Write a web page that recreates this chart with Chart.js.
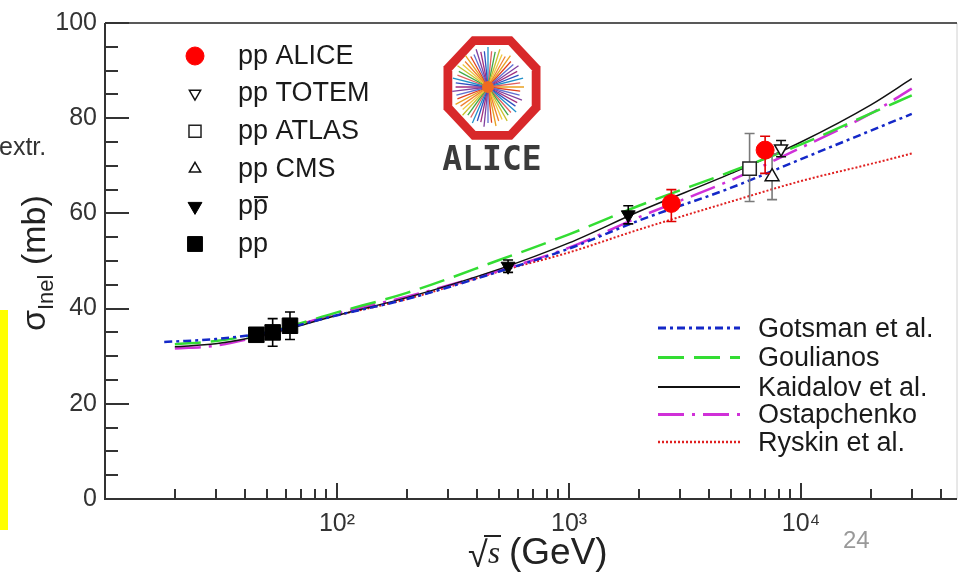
<!DOCTYPE html>
<html lang="en">
<head>
<meta charset="UTF-8">
<title>Inelastic pp cross section vs sqrt(s)</title>
<script src="https://cdn.jsdelivr.net/npm/chart.js@4.4.0/dist/chart.umd.min.js"></script>
<style>
  html, body { margin: 0; padding: 0; background: #fff; }
  #wrap { position: relative; width: 959px; height: 572px; }
</style>
</head>
<body>
<div id="wrap"><canvas id="xsChart" width="959" height="572"></canvas></div>
<script>
// sqrt(s) in GeV, sigma_inel in mb

// model curves
const gotsmanE = [18, 20, 30, 50, 100, 200, 500, 1000, 2000, 5000, 10000, 20000, 30000];
const gotsmanXs = [33.0, 33.1, 33.6, 35.0, 38.6, 42.0, 47.8, 52.6, 58.5, 65.4, 71.4, 77.4, 80.9];
const goulianosE = [20, 30, 50, 100, 200, 500, 1000, 2000, 5000, 10000, 20000, 30000];
const goulianosXs = [32.5, 33.2, 35.0, 39.2, 43.3, 50.2, 55.6, 61.6, 68.8, 74.5, 81.0, 84.8];
const kaidalovE = [20, 30, 50, 100, 200, 500, 1000, 2000, 5000, 10000, 20000, 30000];
const kaidalovXs = [32.0, 32.6, 34.6, 38.6, 42.3, 48.3, 53.8, 60.4, 68.4, 75.0, 82.8, 88.3];
const ostapchenkoE = [20, 30, 50, 100, 200, 500, 1000, 2000, 5000, 10000, 20000, 30000];
const ostapchenkoXs = [31.6, 32.2, 34.6, 39.0, 42.5, 48.0, 52.8, 59.2, 67.0, 73.8, 81.0, 86.2];
const ryskinE = [60, 100, 200, 500, 1000, 2000, 5000, 10000, 20000, 30000];
const ryskinXs = [36.2, 38.6, 42.0, 47.8, 51.8, 56.6, 62.5, 66.8, 70.4, 72.6];

// measurements (value, upper error, lower error)
const aliceE = [2760, 7000];
const aliceXs = [62.1, 73.3];
const aliceUp = [2.9, 2.9];
const aliceDown = [3.8, 4.9];
const totemE = [8200];
const totemXs = [73.6];
const totemUp = [1.7];
const totemDown = [1.7];
const atlasE = [6000];
const atlasXs = [69.4];
const atlasUp = [7.4];
const atlasDown = [6.9];
const cmsE = [7500];
const cmsXs = [67.7];
const cmsUp = [4.8];
const cmsDown = [4.8];
const ppbarE = [546, 1800];
const ppbarXs = [48.9, 59.7];
const ppbarUp = [1.3, 1.9];
const ppbarDown = [1.3, 1.9];
const ppE = [44.9, 52.8, 62.7];
const ppXs = [34.5, 35.0, 36.4];
const ppUp = [0.8, 2.9, 2.9];
const ppDown = [0.8, 2.9, 2.9];

// axis ticks
const xDecades = [10, 100, 1000, 10000];
const xLabelled = [100, 1000, 10000];
const xMax = 47000;
const yLabelled = [0, 20, 40, 60, 80, 100];

const FONT = "'Liberation Sans', Arial, Helvetica, sans-serif";
const SUP = { 2: '\u00b2', 3: '\u00b3', 4: '\u2074' };

const pts = (xs, ys) => xs.map((x, i) => ({ x: x, y: ys[i] }));

function curve(label, xs, ys, color, width, dash) {
  return {
    label: label, data: pts(xs, ys), showLine: true, order: 2,
    borderColor: color, borderWidth: width, borderDash: dash,
    pointRadius: 0, pointHoverRadius: 0, cubicInterpolationMode: 'monotone',
    fill: false
  };
}

function points(label, xs, ys, up, down, o) {
  return Object.assign({
    label: label, data: pts(xs, ys), showLine: false, order: 1,
    errUp: up, errDown: down
  }, o);
}

const datasets = [
  points('pp ALICE', aliceE, aliceXs, aliceUp, aliceDown, {
    pointStyle: 'circle', pointRadius: 9, pointBackgroundColor: '#ff0000',
    pointBorderColor: '#ff0000', pointBorderWidth: 1, errColor: '#e00000'
  }),
  points('pp TOTEM', totemE, totemXs, totemUp, totemDown, {
    pointStyle: 'triangle', pointRotation: 180, pointRadius: 7.5, pointBackgroundColor: '#ffffff',
    pointBorderColor: '#111', pointBorderWidth: 1.5, errColor: '#111'
  }),
  points('pp ATLAS', atlasE, atlasXs, atlasUp, atlasDown, {
    pointStyle: 'rect', pointRadius: 9.5, pointBackgroundColor: '#ffffff',
    pointBorderColor: '#222', pointBorderWidth: 1.5, errColor: '#7a7a7a'
  }),
  points('pp CMS', cmsE, cmsXs, cmsUp, cmsDown, {
    pointStyle: 'triangle', pointRadius: 8, pointBackgroundColor: '#ffffff',
    pointBorderColor: '#111', pointBorderWidth: 1.5, errColor: '#7a7a7a'
  }),
  points('pp\u0304', ppbarE, ppbarXs, ppbarUp, ppbarDown, {
    pointStyle: 'triangle', pointRotation: 180, pointRadius: 8, pointBackgroundColor: '#000',
    pointBorderColor: '#000', pointBorderWidth: 1, errColor: '#000'
  }),
  points('pp', ppE, ppXs, ppUp, ppDown, {
    pointStyle: 'rect', pointRadius: 11, pointBackgroundColor: '#000',
    pointBorderColor: '#000', pointBorderWidth: 1, errColor: '#000'
  }),
  curve('Gotsman et al.', gotsmanE, gotsmanXs, '#1428c8', 2.5, [8, 4, 3, 4]),
  curve('Goulianos', goulianosE, goulianosXs, '#33dd33', 2.5, [26, 10]),
  curve('Kaidalov et al.', kaidalovE, kaidalovXs, '#111111', 1.5, []),
  curve('Ostapchenko', ostapchenkoE, ostapchenkoXs, '#d030d8', 2.5, [26, 8, 3, 8]),
  curve('Ryskin et al.', ryskinE, ryskinXs, '#e02020', 2, [2, 2])
];

// error bars, drawn just before each marker set
const errorBars = {
  id: 'errorBars',
  beforeDatasetDraw(chart, args) {
    const ds = chart.data.datasets[args.index];
    if (!ds.errUp) return;
    const y = chart.scales.y, ctx = chart.ctx;
    ctx.save();
    ctx.strokeStyle = ds.errColor;
    ctx.lineWidth = 1.6;
    args.meta.data.forEach((el, i) => {
      const v = ds.data[i].y;
      const top = y.getPixelForValue(v + ds.errUp[i]);
      const bot = y.getPixelForValue(v - ds.errDown[i]);
      ctx.beginPath();
      ctx.moveTo(el.x, top); ctx.lineTo(el.x, bot);
      ctx.moveTo(el.x - 5, top); ctx.lineTo(el.x + 5, top);
      ctx.moveTo(el.x - 5, bot); ctx.lineTo(el.x + 5, bot);
      ctx.stroke();
    });
    ctx.restore();
  }
};

// frame with inward tick marks
const axisFrame = {
  id: 'axisFrame',
  beforeDatasetsDraw(chart) {
    const { ctx, chartArea: a, scales: { x, y } } = chart;
    ctx.save();
    ctx.strokeStyle = '#d0d0d0';
    ctx.lineWidth = 1;
    ctx.beginPath(); ctx.moveTo(a.right, a.top); ctx.lineTo(a.right, a.bottom); ctx.stroke();
    ctx.strokeStyle = '#222';
    ctx.lineWidth = 1.6;
    ctx.beginPath(); ctx.moveTo(a.left, a.top); ctx.lineTo(a.right, a.top); ctx.stroke();
    ctx.strokeStyle = '#333';
    ctx.lineWidth = 2;
    ctx.beginPath();
    ctx.moveTo(a.left, a.top); ctx.lineTo(a.left, a.bottom); ctx.lineTo(a.right, a.bottom);
    x.ticks.forEach(t => {
      const px = Math.round(x.getPixelForValue(t.value));
      const len = xDecades.includes(t.value) ? 16 : 10;
      ctx.moveTo(px, a.bottom); ctx.lineTo(px, a.bottom - len);
    });
    y.ticks.forEach(t => {
      const py = Math.round(y.getPixelForValue(t.value));
      const len = yLabelled.includes(t.value) ? 24 : 13;
      ctx.moveTo(a.left, py); ctx.lineTo(a.left + len, py);
    });
    ctx.stroke();
    ctx.restore();
  }
};

function marker(ctx, ds, r, px, py) {
  ctx.save();
  ctx.fillStyle = ds.pointBackgroundColor;
  ctx.strokeStyle = ds.pointBorderColor;
  ctx.lineWidth = ds.pointBorderWidth;
  Chart.helpers.drawPoint(ctx, {
    pointStyle: ds.pointStyle, radius: r, rotation: ds.pointRotation || 0,
    borderWidth: ds.pointBorderWidth
  }, px, py);
  ctx.restore();
}

// legends, titles and slide decorations
const annotations = {
  id: 'annotations',
  afterDraw(chart) {
    const ctx = chart.ctx;
    const ds = chart.data.datasets;
    ctx.save();

    // measurement legend
    const legR = [9, 6.5, 8.5, 6.5, 8, 10.5];
    ctx.font = '27px ' + FONT;
    ctx.fillStyle = '#1a1a1a';
    ctx.textBaseline = 'alphabetic';
    for (let i = 0; i < 6; i++) {
      const mid = 54 + i * 37.6;
      marker(ctx, ds[i], legR[i], 195, mid + 2);
      const base = mid + 0.36 * 27;
      if (i === 4) {
        ctx.fillText('pp', 238, base);
        const w1 = ctx.measureText('p').width, w2 = ctx.measureText('pp').width;
        ctx.fillRect(238 + w1 + 1, base - 0.52 * 27 - 4, w2 - w1 - 1, 2);
      } else {
        ctx.fillText(ds[i].label, 238, base);
      }
    }

    // model legend
    const rows = [327, 356.5, 386, 413.5, 441];
    for (let i = 0; i < 5; i++) {
      const c = ds[6 + i];
      ctx.save();
      ctx.strokeStyle = c.borderColor;
      ctx.lineWidth = c.borderWidth + 0.5;
      ctx.setLineDash(c.borderDash);
      ctx.beginPath();
      ctx.moveTo(658, rows[i] + 1); ctx.lineTo(740, rows[i] + 1);
      ctx.stroke();
      ctx.restore();
      ctx.fillText(c.label, 758, rows[i] + 0.36 * 27);
    }

    // y title: sigma_Inel (mb)
    ctx.save();
    ctx.translate(45, 331);
    ctx.rotate(-Math.PI / 2);
    ctx.fillStyle = '#222';
    ctx.font = '34px ' + FONT;
    ctx.fillText('\u03c3', 0, 0);
    let w = ctx.measureText('\u03c3').width;
    ctx.font = '22px ' + FONT;
    ctx.fillText('Inel', w, 8);
    w += ctx.measureText('Inel').width;
    ctx.font = '34px ' + FONT;
    ctx.fillText(' (mb)', w, 0);
    ctx.restore();

    // x title: sqrt(s) (GeV)
    ctx.fillStyle = '#222';
    ctx.font = '36px ' + FONT;
    ctx.fillText('\u221a', 468, 567);
    ctx.font = 'italic 31px "Liberation Serif", "DejaVu Serif", serif';
    ctx.fillText('s', 488, 563);
    ctx.fillRect(484, 535, 17, 2);
    ctx.font = '37px ' + FONT;
    ctx.fillText('(GeV)', 509, 564);

    // slide leftovers
    ctx.font = '25px ' + FONT;
    ctx.fillStyle = '#333';
    ctx.fillText('extr.', -1, 155);
    ctx.fillStyle = '#ffff00';
    ctx.fillRect(0, 310, 8, 220);
    ctx.font = '24px ' + FONT;
    ctx.fillStyle = '#999';
    ctx.fillText('24', 843, 548);

    // ALICE logo
    const cx = 492, cy = 88;
    const oct = (sx, sy) => {
      ctx.beginPath();
      for (let k = 0; k < 8; k++) {
        const a = (22.5 + 45 * k) * Math.PI / 180;
        const px = cx + sx * Math.cos(a), py = cy + sy * Math.sin(a);
        if (k) ctx.lineTo(px, py); else ctx.moveTo(px, py);
      }
      ctx.closePath();
    };
    ctx.fillStyle = '#d8282a';
    oct(52.5, 56); ctx.fill();
    ctx.fillStyle = '#ffffff';
    oct(43, 46.5); ctx.fill();
    const rayColours = ['#e8a020', '#3050c0', '#f0c840', '#8040a0', '#40a848', '#e04020',
                        '#2090c8', '#f08030', '#a03080', '#c8c030', '#6070d0', '#e06060'];
    ctx.lineWidth = 1.3;
    for (let i = 0; i < 56; i++) {
      const a = i * 2 * Math.PI / 56;
      const len = (i % 3 === 0) ? 1 : 0.9;
      ctx.strokeStyle = rayColours[(i * 5) % rayColours.length];
      ctx.beginPath();
      ctx.moveTo(cx - 4, cy - 1);
      ctx.lineTo(cx - 4 + 36 * len * Math.cos(a), cy - 1 + 40 * len * Math.sin(a));
      ctx.stroke();
    }
    ctx.fillStyle = '#f06a20';
    ctx.beginPath(); ctx.arc(cx - 4, cy - 1, 6, 0, 2 * Math.PI); ctx.fill();
    ctx.fillStyle = '#3b3b3b';
    ctx.font = 'bold 33px "DejaVu Sans Mono", monospace';
    ctx.textAlign = 'center';
    ctx.fillText('ALICE', cx, 170);

    ctx.restore();
  }
};

const xTicks = [];
xDecades.forEach(d => {
  for (let m = 1; m <= 9; m++) {
    if (m * d <= xMax) xTicks.push(m * d);
  }
});

new Chart(document.getElementById('xsChart'), {
  type: 'scatter',
  data: { datasets: datasets },
  options: {
    responsive: false,
    animation: false,
    events: [],
    layout: { autoPadding: false, padding: { top: 21, right: 2, left: 0, bottom: 0 } },
    plugins: { legend: { display: false }, tooltip: { enabled: false } },
    scales: {
      x: {
        type: 'logarithmic', min: 10, max: xMax,
        grid: { display: false, drawTicks: false }, border: { display: false },
        afterBuildTicks(scale) {
          scale.ticks = xTicks.map(v => ({ value: v, major: xDecades.includes(v) }));
        },
        afterFit(scale) { scale.height = 73; },
        ticks: {
          autoSkip: false, maxRotation: 0, padding: 0, color: '#333',
          font: { family: FONT, size: 25, lineHeight: 2 },
          callback: v => xLabelled.includes(v) ? '10' + SUP[Math.round(Math.log10(v))] : ''
        }
      },
      y: {
        min: 0, max: 100,
        grid: { display: false, drawTicks: false }, border: { display: false },
        afterFit(scale) { scale.width = 105; },
        ticks: {
          stepSize: 5, autoSkip: false, padding: 8, color: '#333',
          font: { family: FONT, size: 25 },
          callback: v => yLabelled.includes(v) ? String(v) : ''
        }
      }
    }
  },
  plugins: [axisFrame, errorBars, annotations]
});
</script>
</body>
</html>
